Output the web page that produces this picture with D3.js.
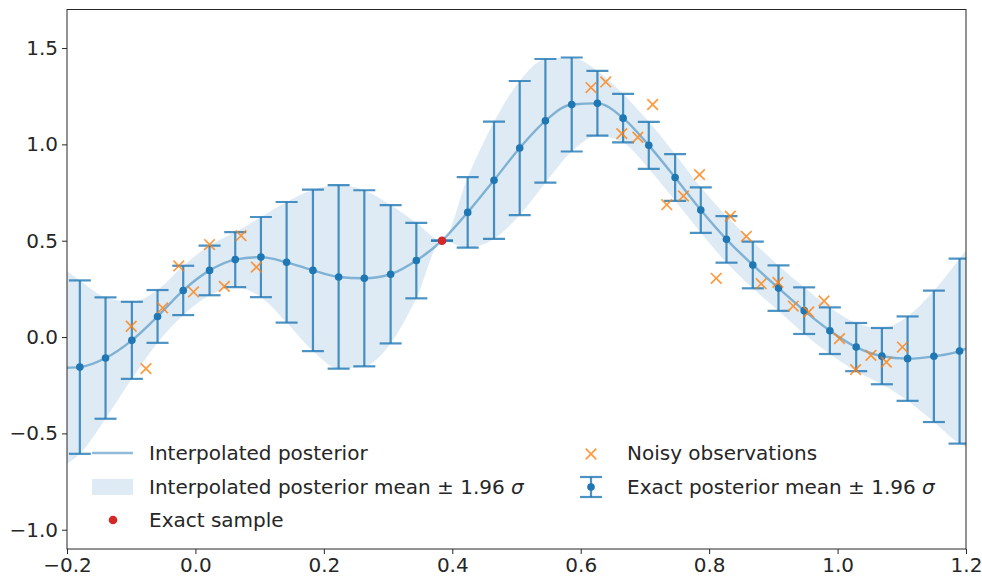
<!DOCTYPE html>
<html>
<head>
<meta charset="utf-8">
<script src="https://cdn.jsdelivr.net/npm/d3@7"></script>
<style>
  body { margin: 0; background: #fff; }
  svg { display: block; font-family: "DejaVu Sans", sans-serif; }
</style>
</head>
<body>
<svg id="chart" width="982" height="577"></svg>
<script>
// exact posterior at grid points (x, mean, 1.96 sigma half-width)
const gridX = [-0.180, -0.140, -0.099, -0.059, -0.019, 0.022, 0.062, 0.102, 0.142, 0.183,
  0.223, 0.263, 0.304, 0.344, 0.384, 0.424, 0.465, 0.505, 0.545, 0.586,
  0.626, 0.666, 0.706, 0.747, 0.787, 0.827, 0.868, 0.908, 0.948, 0.988,
  1.029, 1.069, 1.109, 1.150, 1.190];
const gridMean = [-0.156, -0.109, -0.017, 0.107, 0.242, 0.346, 0.402, 0.415, 0.388, 0.346,
  0.312, 0.305, 0.326, 0.397, 0.500, 0.647, 0.814, 0.981, 1.122, 1.207,
  1.213, 1.136, 0.995, 0.828, 0.659, 0.507, 0.374, 0.254, 0.137, 0.033,
  -0.052, -0.099, -0.112, -0.100, -0.073];
const gridHalf = [0.450, 0.315, 0.200, 0.137, 0.128, 0.129, 0.143, 0.208, 0.313, 0.419,
  0.476, 0.457, 0.359, 0.196, 0.000, 0.183, 0.304, 0.348, 0.321, 0.244,
  0.168, 0.126, 0.122, 0.121, 0.118, 0.121, 0.121, 0.118, 0.121, 0.121,
  0.125, 0.146, 0.219, 0.341, 0.480];

// interpolated posterior values at the plot edges
const edgeX = [-0.2, 1.2];
const edgeMean = [-0.159, -0.06];
const edgeHalf = [0.50, 0.51];

// exact sample
const sampleX = [0.384];
const sampleY = [0.5];

// noisy observations
const obsX = [-0.100, -0.077, -0.051, -0.026, -0.003, 0.022, 0.045, 0.071, 0.095,
  0.616, 0.639, 0.664, 0.689, 0.712, 0.734, 0.760, 0.785, 0.811, 0.833, 0.858,
  0.881, 0.907, 0.931, 0.955, 0.979, 1.003, 1.028, 1.052, 1.076, 1.101];
const obsY = [0.056, -0.164, 0.151, 0.369, 0.234, 0.480, 0.263, 0.526, 0.363,
  1.295, 1.324, 1.056, 1.037, 1.207, 0.687, 0.732, 0.843, 0.305, 0.627, 0.523,
  0.277, 0.284, 0.161, 0.130, 0.187, -0.008, -0.169, -0.095, -0.130, -0.052];

const xTicks = [-0.2, 0.0, 0.2, 0.4, 0.6, 0.8, 1.0, 1.2];
const yTicks = [-1.0, -0.5, 0.0, 0.5, 1.0, 1.5];

const blue = "#1f77b4", orange = "#ff7f0e", red = "#d62728";
const fontSize = 20;

const svg = d3.select("#chart");
const margin = { left: 67, right: 16, top: 9.5, bottom: 28 };
const W = 982, H = 577;

const x = d3.scaleLinear().domain([-0.2, 1.2]).range([margin.left, W - margin.right]);
const y = d3.scaleLinear().domain([-1.1, 1.7]).range([H - margin.bottom, margin.top]);

svg.append("clipPath").attr("id", "clip")
  .append("rect")
  .attr("x", margin.left).attr("y", margin.top)
  .attr("width", x.range()[1] - margin.left)
  .attr("height", y.range()[0] - margin.top);

const grid = gridX.map((gx, i) => ({ x: gx, m: gridMean[i], h: gridHalf[i] }));
const interp = [{ x: edgeX[0], m: edgeMean[0], h: edgeHalf[0] }, ...grid,
  { x: edgeX[1], m: edgeMean[1], h: edgeHalf[1] }];

const plot = svg.append("g").attr("clip-path", "url(#clip)");

// band
plot.append("path")
  .datum(interp)
  .attr("fill", blue)
  .attr("fill-opacity", 0.15)
  .attr("d", d3.area()
    .curve(d3.curveMonotoneX)
    .x((d) => x(d.x))
    .y0((d) => y(d.m - d.h))
    .y1((d) => y(d.m + d.h)));

// interpolated mean line
plot.append("path")
  .datum(interp)
  .attr("fill", "none")
  .attr("stroke", blue)
  .attr("stroke-opacity", 0.5)
  .attr("stroke-width", 2.4)
  .attr("d", d3.line().curve(d3.curveMonotoneX).x((d) => x(d.x)).y((d) => y(d.m)));

// error bars
const cap = 11;
const bars = plot.append("g")
  .attr("stroke", blue)
  .attr("stroke-opacity", 0.8)
  .attr("stroke-width", 2.2);
bars.selectAll(".v").data(grid).join("line")
  .attr("x1", (d) => x(d.x)).attr("x2", (d) => x(d.x))
  .attr("y1", (d) => y(d.m - d.h)).attr("y2", (d) => y(d.m + d.h));
bars.selectAll(".t").data(grid).join("line")
  .attr("x1", (d) => x(d.x) - cap).attr("x2", (d) => x(d.x) + cap)
  .attr("y1", (d) => y(d.m + d.h)).attr("y2", (d) => y(d.m + d.h));
bars.selectAll(".b").data(grid).join("line")
  .attr("x1", (d) => x(d.x) - cap).attr("x2", (d) => x(d.x) + cap)
  .attr("y1", (d) => y(d.m - d.h)).attr("y2", (d) => y(d.m - d.h));

plot.append("g").selectAll("circle").data(grid).join("circle")
  .attr("cx", (d) => x(d.x)).attr("cy", (d) => y(d.m))
  .attr("r", 3.8).attr("fill", blue);

// noisy observations
const xMark = (g, s) => g.append("path")
  .attr("d", `M${-s},${-s}L${s},${s}M${-s},${s}L${s},${-s}`)
  .attr("stroke", orange).attr("stroke-opacity", 0.8)
  .attr("stroke-width", 1.7).attr("fill", "none");

plot.append("g").selectAll("g").data(obsX).join("g")
  .attr("transform", (d, i) => `translate(${x(d)},${y(obsY[i])})`)
  .each(function () { xMark(d3.select(this), 5.3); });

// exact sample
plot.append("g").selectAll("circle").data(sampleX).join("circle")
  .attr("cx", (d) => x(d)).attr("cy", (d, i) => y(sampleY[i]))
  .attr("r", 4.3).attr("fill", red);

// axes
const axisStyle = (g) => {
  g.selectAll("text").attr("font-size", fontSize).attr("fill", "#262626")
    .attr("font-family", "DejaVu Sans");
  g.selectAll("line").attr("stroke", "#262626");
  g.select(".domain").remove();
};
const fmt = (d) => d3.format(".1f")(d).replace("-", "\u2212");

svg.append("g")
  .attr("transform", `translate(0,${y.range()[0]})`)
  .call(d3.axisBottom(x).tickValues(xTicks).tickFormat(fmt).tickSize(5).tickPadding(4))
  .call(axisStyle);
svg.append("g")
  .attr("transform", `translate(${margin.left},0)`)
  .call(d3.axisLeft(y).tickValues(yTicks).tickFormat(fmt).tickSize(5).tickPadding(4))
  .call(axisStyle);

svg.append("rect")
  .attr("x", margin.left).attr("y", margin.top)
  .attr("width", x.range()[1] - margin.left)
  .attr("height", y.range()[0] - margin.top)
  .attr("fill", "none").attr("stroke", "#262626").attr("stroke-width", 1);

// legend
const legend = svg.append("g").attr("font-size", fontSize).attr("fill", "#262626");
const addText = (tx, ty, label, sigma) => {
  const t = legend.append("text").attr("x", tx).attr("y", ty).text(label);
  if (sigma) t.append("tspan").attr("font-style", "italic").text(" \u03c3");
};

legend.append("line").attr("x1", 92).attr("x2", 133).attr("y1", 453).attr("y2", 453)
  .attr("stroke", blue).attr("stroke-opacity", 0.5).attr("stroke-width", 2.4);
addText(149, 460, "Interpolated posterior");

legend.append("rect").attr("x", 92).attr("y", 479).attr("width", 41).attr("height", 16)
  .attr("fill", blue).attr("fill-opacity", 0.15);
addText(149, 494, "Interpolated posterior mean \u00b1 1.96", true);

legend.append("circle").attr("cx", 113).attr("cy", 520).attr("r", 4.3).attr("fill", red);
addText(149, 527, "Exact sample");

xMark(legend.append("g").attr("transform", "translate(591,454)"), 5.3);
addText(627, 460, "Noisy observations");

const eb = legend.append("g").attr("stroke", blue).attr("stroke-opacity", 0.8).attr("stroke-width", 2.2);
eb.append("line").attr("x1", 591).attr("x2", 591).attr("y1", 477).attr("y2", 497);
eb.append("line").attr("x1", 580).attr("x2", 602).attr("y1", 477).attr("y2", 477);
eb.append("line").attr("x1", 580).attr("x2", 602).attr("y1", 497).attr("y2", 497);
legend.append("circle").attr("cx", 591).attr("cy", 487).attr("r", 3.8).attr("fill", blue);
addText(627, 494, "Exact posterior mean \u00b1 1.96", true);
</script>
</body>
</html>
